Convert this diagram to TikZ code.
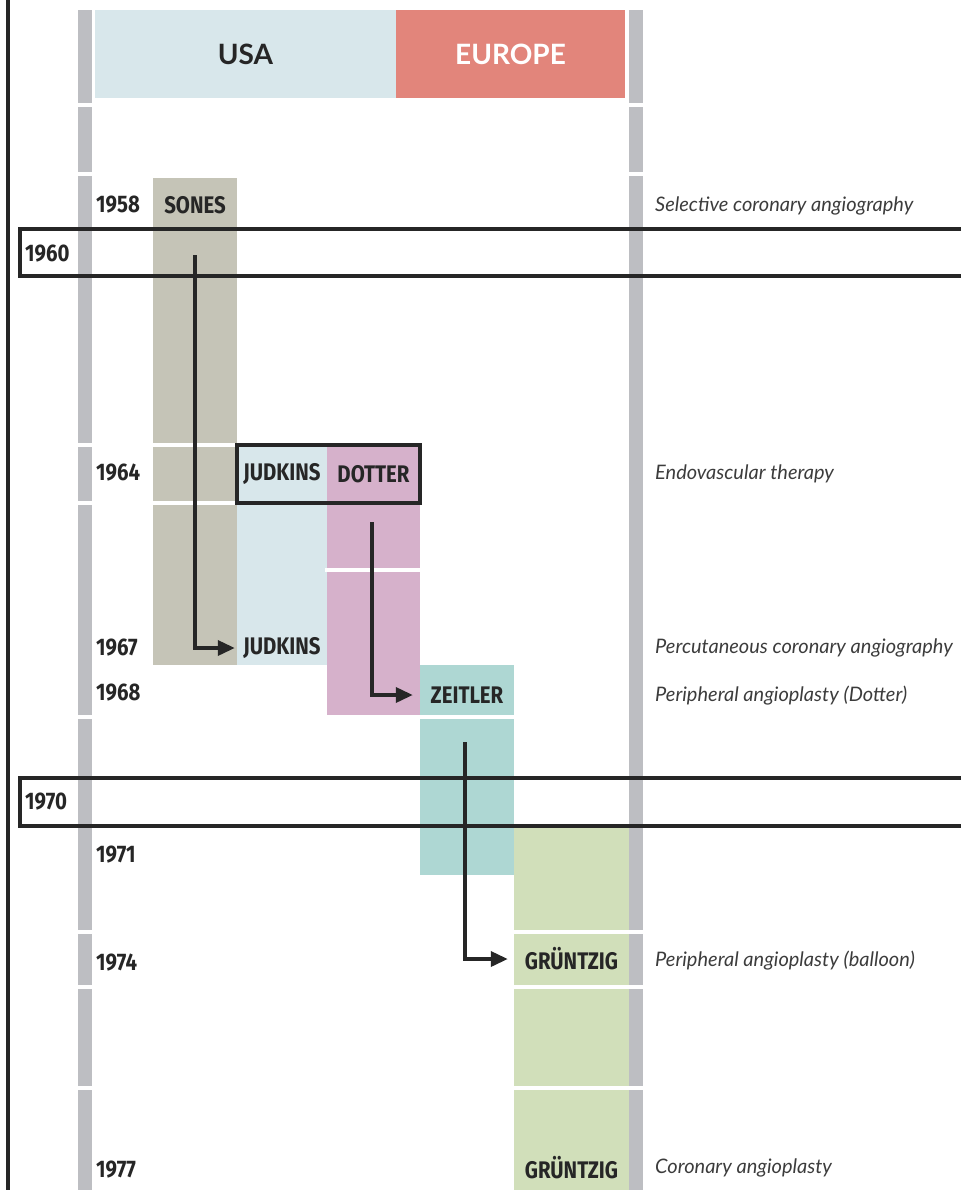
\documentclass[tikz,border=0pt]{standalone}
\usepackage{fontspec}
\setmainfont{Lato}
\newfontfamily\condfont[FakeStretch=0.85]{Fira Sans}
\usetikzlibrary{arrows.meta,positioning,fit}

\definecolor{barGray}{HTML}{BDBEC2}
\definecolor{usaBlue}{HTML}{D8E7EB}
\definecolor{euroRed}{HTML}{E2857B}
\definecolor{sonesGray}{HTML}{C5C4B7}
\definecolor{dotterPink}{HTML}{D6B1CB}
\definecolor{zeitlerTeal}{HTML}{AED7D3}
\definecolor{gruenGreen}{HTML}{D1DFBA}
\definecolor{ink}{HTML}{262626}

\begin{document}
\begin{tikzpicture}[x=1pt, y=-1pt,
  hdr/.style={rectangle, inner sep=0pt, minimum height=88pt, font=\fontsize{28}{30}\selectfont\bfseries},
  who/.style={rectangle, inner sep=0pt, minimum height=22pt, text=ink, font=\condfont\bfseries\fontsize{24}{26}\selectfont},
  yr/.style={who, anchor=west},
  desc/.style={anchor=west, inner sep=0pt, text=ink!90, font=\itshape\fontsize{20}{22}\selectfont},
  gapline/.style={white, line width=4pt},
  yearline/.style={ink, line width=3.5pt},
  arr/.style={-{Triangle[length=17pt, width=15pt]}, ink, line width=3.5pt},
]
\useasboundingbox (0,0) rectangle (961,1190);

% === Bars and columns ===
\fill[barGray] (78,10) rectangle (92,1190);
\fill[barGray] (629,10) rectangle (643,1190);
\fill[sonesGray] (153,178) rectangle (237,665);
\fill[usaBlue] (237,445) rectangle (327,665);
\fill[dotterPink] (327,445) rectangle (420,715);
\fill[zeitlerTeal] (420,665) rectangle (514,875);
\fill[gruenGreen] (514,825) rectangle (629,1190);
\foreach \y/\xa/\xb in {105/70/650, 174/70/650, 445/70/240, 503/70/240, 570/325/422,
    717/70/95, 717/418/516, 932/70/650, 987/70/650, 1088/70/650}
  \draw[gapline] (\xa,\y) -- (\xb,\y);

% === Header ===
\node[hdr, fill=usaBlue, text=ink, minimum width=301pt] (usa) at (245.5,54) {USA};
\node[hdr, fill=euroRed, text=white, minimum width=229pt] (europe) at (510.5,54) {EUROPE};

% === Frame and decades ===
\draw[yearline] (8,0) -- (8,1190);
\draw[yearline] (961,229) -| (20,276) -- (961,276);
\draw[yearline] (961,778) -| (20,826) -- (961,826);
\node[yr] (y1960) at (25,254) {1960};
\node[yr] (y1970) at (25,802) {1970};

% === Years ===
\node[yr] (y1958) at (96,205) {1958};
\node[yr] (y1964) at (96,473) {1964};
\node[yr] (y1967) at (96,648) {1967};
\node[yr] (y1968) at (96,693) {1968};
\node[yr] (y1971) at (96,855) {1971};
\node[yr] (y1974) at (96,963) {1974};
\node[yr] (y1977) at (96,1170) {1977};

% === Names ===
\node[who, minimum width=84pt] (sones) at (195,205) {SONES};
\node[who, minimum width=90pt, minimum height=58pt] (judkA) at (282,474) {JUDKINS};
\node[who, minimum width=93pt, minimum height=58pt] (dotter) at (373.5,474) {DOTTER};
\node[draw=ink, line width=3.5pt, inner sep=0pt, fit=(judkA)(dotter)] (pair) {};
\node[who, minimum width=90pt] (judkB) at (282,648) {JUDKINS};
\node[who, minimum width=94pt] (zeitler) at (467,695) {ZEITLER};
\node[who, minimum width=115pt] (gruenA) at (571.5,959) {GRÜNTZIG};
\node[who, minimum width=115pt] (gruenB) at (571.5,1168) {GRÜNTZIG};

% === Connectors ===
\coordinate (s1) at (195,255);
\coordinate (s2) at (372,522);
\coordinate (s3) at (465,742);
\draw[arr, shorten >=2pt] (s1) |- (judkB);
\draw[arr, shorten >=7pt] (s2) |- (zeitler);
\draw[arr, shorten >=6pt] (s3) |- (gruenA);

% === Descriptions ===
\node[desc] (d1958) at (655,206) {Selective coronary angiography};
\node[desc] (d1964) at (655,474) {Endovascular therapy};
\node[desc] (d1967) at (655,648) {Percutaneous coronary angiography};
\node[desc] (d1968) at (655,696) {Peripheral angioplasty (Dotter)};
\node[desc] (d1974) at (655,961) {Peripheral angioplasty (balloon)};
\node[desc] (d1977) at (655,1168) {Coronary angioplasty};

\end{tikzpicture}
\end{document}
